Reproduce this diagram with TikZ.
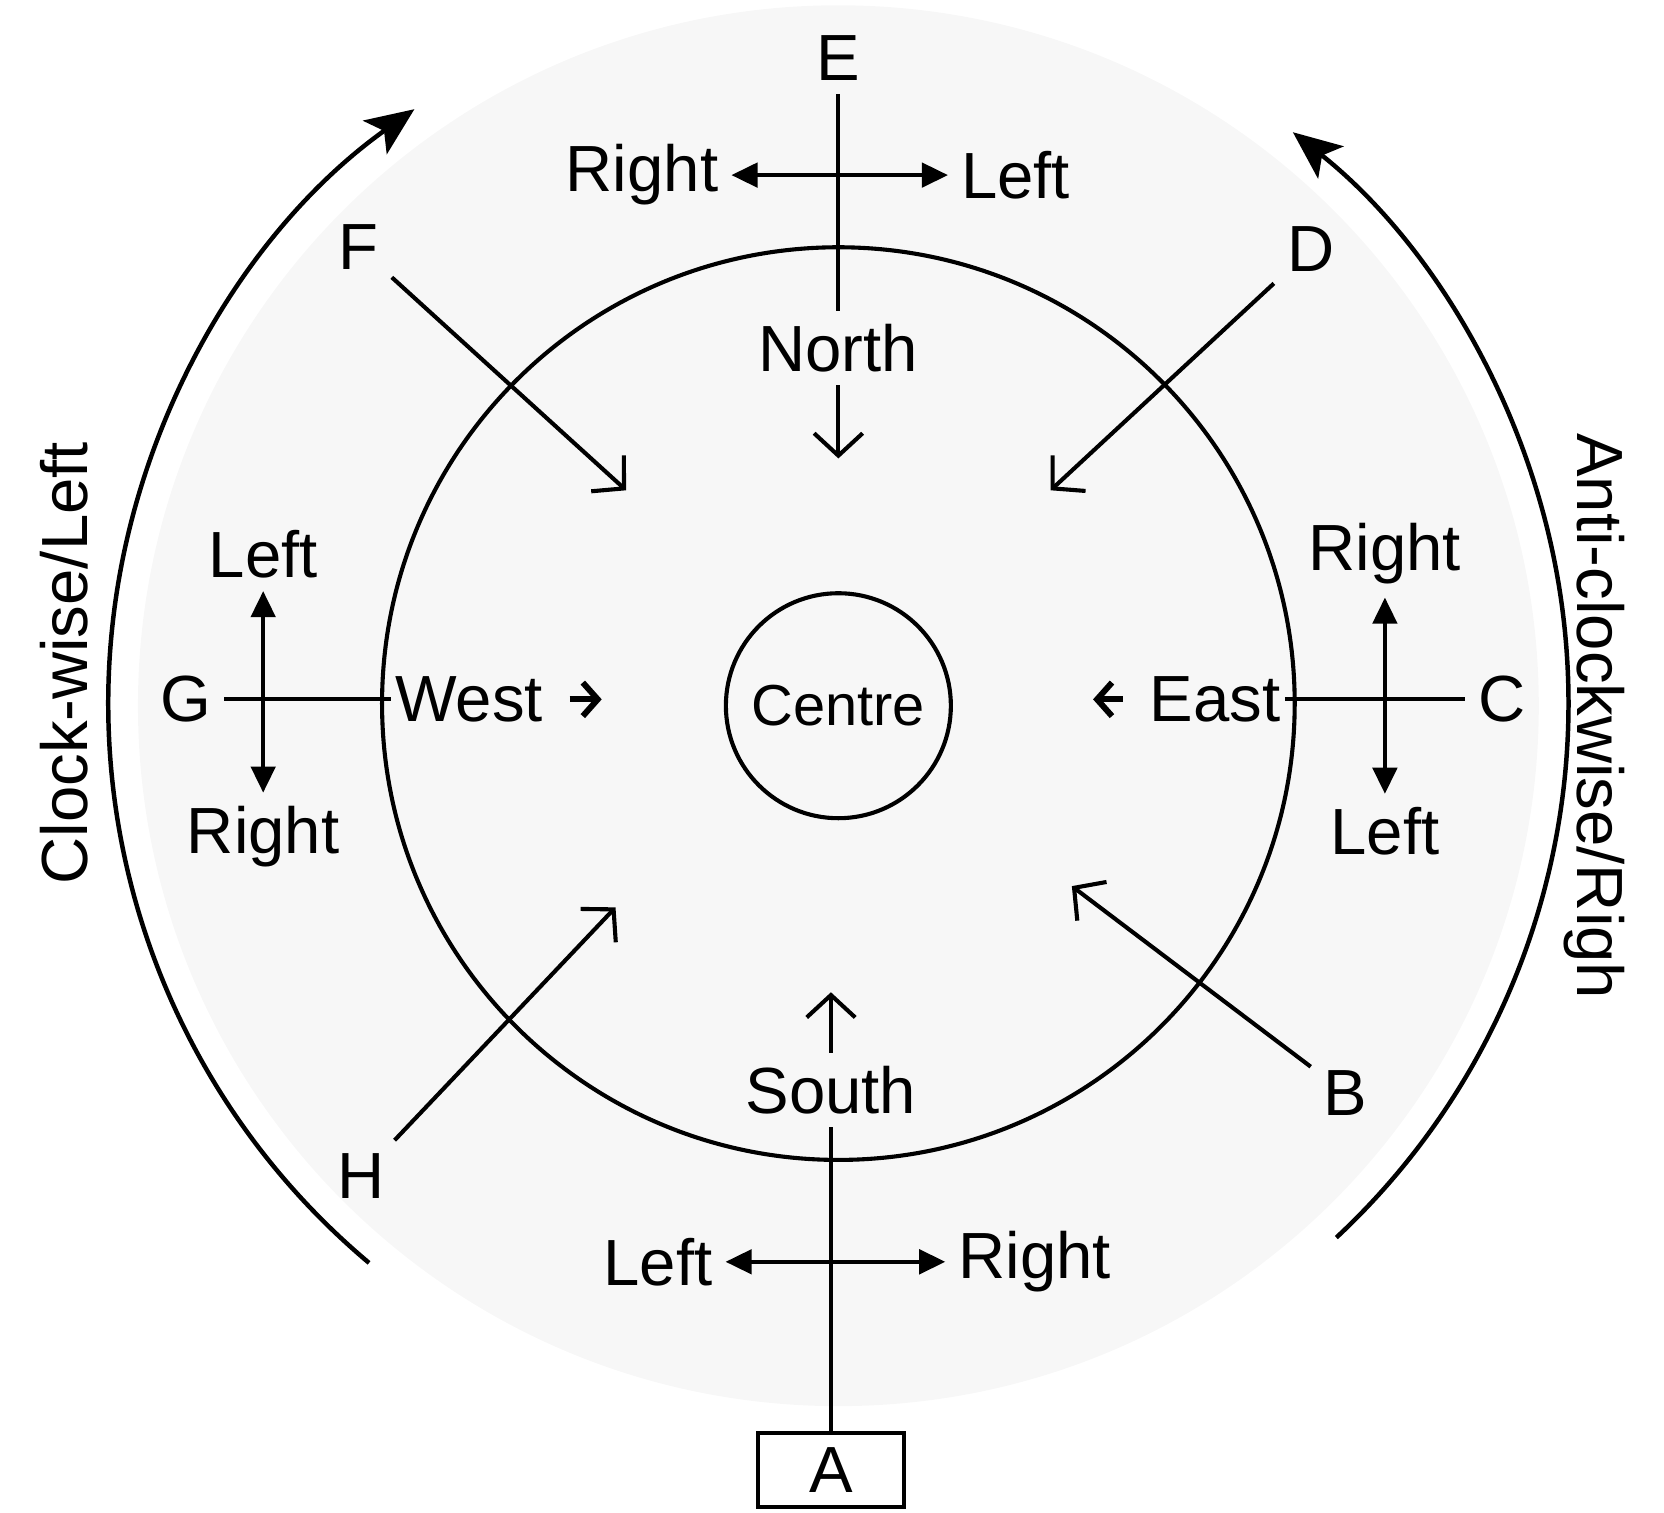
\documentclass[tikz,border=0pt]{standalone}
\usepackage{fontspec}
\setmainfont{Liberation Sans}
\usetikzlibrary{arrows.meta, positioning}

\begin{document}
\begin{tikzpicture}[
    lab/.style={font=\fontsize{17.5}{20}\selectfont},
    ring/.style={line width=1.1pt},
    dbl/.style={line width=1.1pt, {Triangle[length=7pt,width=6.5pt]}-{Triangle[length=7pt,width=6.5pt]}},
    ptr/.style={line width=1.1pt, -{Straight Barb[length=6pt,width=13pt]}},
    tick/.style={line width=1.6pt, -{Straight Barb[length=4pt,width=9pt]}},
    turn/.style={line width=1.2pt, -{Stealth[length=13pt,width=11pt,inset=3pt]}},
    lbox/.style={lab, draw, line width=1.1pt, minimum width=1.38cm, minimum height=0.7cm}
  ]
  \useasboundingbox (0,0) rectangle (15.68,14.25);
  \coordinate (ctr) at (7.9,7.62);

  % faint shading of the page
  \fill[black!3] (7.9,7.6) circle (6.6);

  \draw[ring] (ctr) circle (4.3);
  \node[draw, circle, line width=1.1pt, minimum size=2.12cm,
        font=\fontsize{15.5}{18}\selectfont] (centre) at (7.9,7.6) {Centre};

  % turning arcs
  \draw[turn] (ctr) ++(230:6.88) arc[start angle=230, end angle=125.5, radius=6.88];
  \draw[turn] (ctr) ++(-47:6.88) arc[start angle=-47, end angle=51.5, radius=6.88];
  \node[lab, rotate=90] (cw) at (0.6,8.0) {Clock-wise/Left};
  \node[lab, rotate=-90] (acw) at (15.02,7.5) {Anti-clockwise/Righ};

  % directions
  \node[lab] (north) at (7.9,10.97) {North};
  \node[lab] (south) at (7.83,3.98) {South};
  \node[lab, inner sep=1pt] (west) at (4.42,7.66) {West};
  \node[lab, inner sep=1pt] (east) at (11.45,7.66) {East};
  \coordinate (tipN) at (7.9,9.93);
  \coordinate (tipS) at (7.83,4.9);
  \coordinate (tipW) at (5.67,7.66);
  \coordinate (tipE) at (10.3,7.66);
  \draw[ptr] (north) -- (tipN);
  \draw[ptr] (south) -- (tipS);
  \draw[tick, shorten <=6pt] (west) -- (tipW);
  \draw[tick, shorten <=6pt] (east) -- (tipE);

  % persons
  \node[lab] (E) at (7.9,13.7) {E};
  \node[lab] (F) at (3.38,11.92) {F};
  \node[lab] (D) at (12.35,11.9) {D};
  \node[lab] (G) at (1.75,7.66) {G};
  \node[lab] (C) at (14.15,7.66) {C};
  \node[lab] (H) at (3.4,3.17) {H};
  \node[lab] (B) at (12.68,3.95) {B};
  \node[lbox] (A) at (7.83,0.4) {A};

  \coordinate (tipF) at (5.9,9.63);
  \coordinate (tipD) at (9.9,9.63);
  \coordinate (tipH) at (5.8,5.7);
  \coordinate (tipB) at (10.1,5.9);
  \draw[ptr] (F) -- (tipF);
  \draw[ptr] (D) -- (tipD);
  \draw[ptr] (H) -- (tipH);
  \draw[ptr] (B) -- (tipB);

  \draw[ring] (E) -- (north);
  \draw[ring] (south) -- (A);
  \draw[ring] (G) -- (west);
  \draw[ring] (east) -- (C);

  % left / right of each person
  \node[lab] (eR) at (6.05,12.6) {Right};
  \node[lab] (eL) at (9.57,12.6) {Left};
  \node[lab] (gL) at (2.48,9.03) {Left};
  \node[lab] (gR) at (2.48,6.37) {Right};
  \node[lab] (cR) at (13.05,9.03) {Right};
  \node[lab] (cL) at (13.05,6.42) {Left};
  \node[lab] (aL) at (6.2,2.36) {Left};
  \node[lab] (aR) at (9.75,2.36) {Right};
  \draw[dbl] (eR) -- (eL);
  \draw[dbl] (gL) -- (gR);
  \draw[dbl] (cR) -- (cL);
  \draw[dbl] (aL) -- (aR);
\end{tikzpicture}
\end{document}
